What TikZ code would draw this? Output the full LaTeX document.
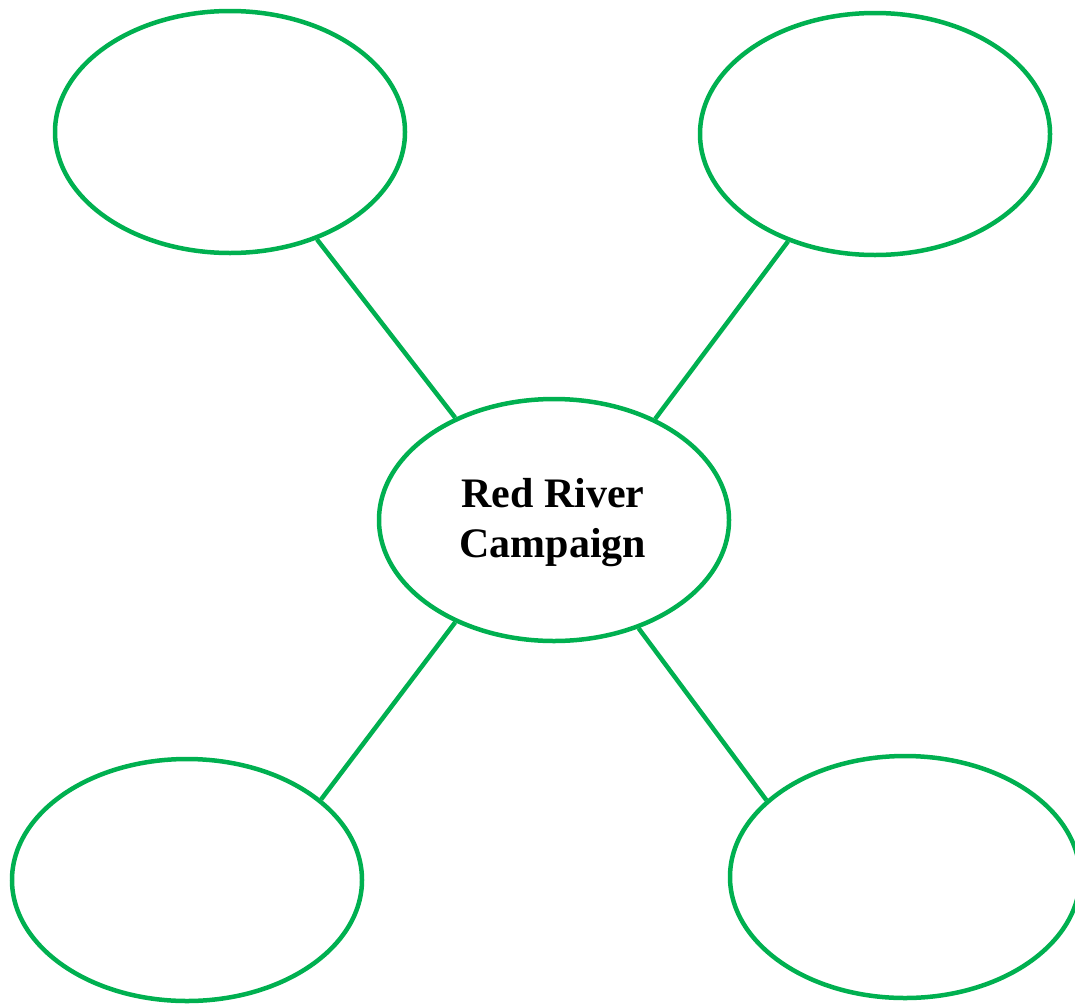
\documentclass[tikz,border=0pt]{standalone}
\usepackage{fontspec}
\setmainfont{Liberation Serif}
\usetikzlibrary{shapes.geometric}
\definecolor{wgreen}{HTML}{00B050}
\begin{document}
\begin{tikzpicture}[x=1pt,y=-1pt,
  bubble/.style={ellipse,draw=wgreen,line width=4.5pt,minimum width=350pt,minimum height=242pt,inner sep=0pt},
  link/.style={draw=wgreen,line width=4.5pt}]
\useasboundingbox (0,0) rectangle (1075,1004);
\node[bubble] (tl) at (230,132) {};
\node[bubble] (tr) at (875,134) {};
\node[bubble] (c) at (554,520) {};
\node[align=center,font=\fontsize{42}{50}\selectfont\bfseries,inner sep=0pt] (ct) at (553,523) {Red River\\Campaign};
\node[bubble] (bl) at (187,880) {};
\node[bubble] (br) at (905,877) {};
\draw[link] (tl.-51) -- (c.134);
\draw[link] (tr.-129) -- (c.45);
\draw[link] (c.-134) -- (bl.31);
\draw[link] (c.-52) -- (br.151);
\end{tikzpicture}
\end{document}
